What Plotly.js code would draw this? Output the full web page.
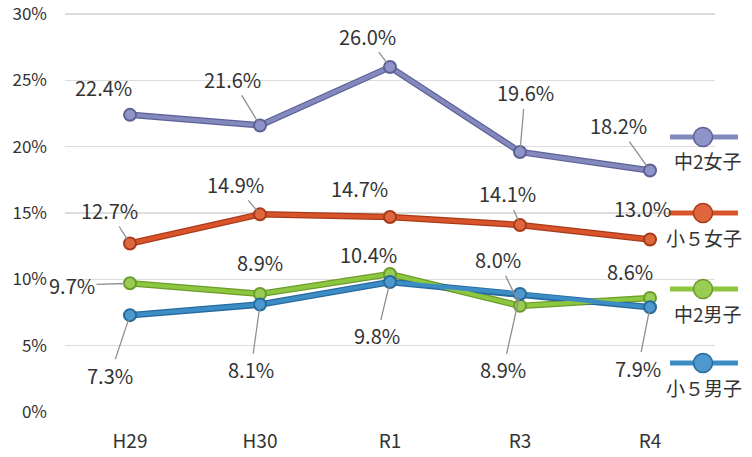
<!DOCTYPE html>
<html><head><meta charset="utf-8">
<script src="https://cdn.plot.ly/plotly-3.0.1.min.js"></script>
<style>body{margin:0;background:#fff}#c{width:752px;height:457px}</style>
</head><body><div id="c"></div>
<script>
// ---- data ----
const categories = ["H29", "H30", "R1", "R3", "R4"];
const seriesNames = ["中2女子", "小５女子", "中2男子", "小５男子"];
const g2Girls = [22.4, 21.6, 26.0, 19.6, 18.2];
const g5Girls = [12.7, 14.9, 14.7, 14.1, 13.0];
const g2Boys = [9.7, 8.9, 10.4, 8.0, 8.6];
const g5Boys = [7.3, 8.1, 9.8, 8.9, 7.9];
const yTicks = [0, 5, 10, 15, 20, 25, 30];

// ---- styles / layout config ----
const FONT = '"Noto Sans CJK JP", "Noto Sans", sans-serif';
const styles = [
  {line: '#8388bd', edge: '#5d6197', marker: '#8f94c8'},
  {line: '#d9542b', edge: '#a83a19', marker: '#e0673d'},
  {line: '#8dc63f', edge: '#6a9d2a', marker: '#98cc52'},
  {line: '#3c8dc5', edge: '#276a9e', marker: '#4d98cc'}
];
// label offsets in pixels [dx, dy, leaderLine]
const offsets = [
  [[-27,-27,0],[-28,-46,1],[-23,-31,1],[5,-59,1],[-32,-45,1]],
  [[-21,-33,1],[-25,-30,1],[-31,-28,0],[-13,-31,1],[-8,-31,0]],
  [[-58,2,1],[0,-31,0],[-22,-20,0],[-22,-46,1],[-20,-26,0]],
  [[-20,60,1],[-9,65,1],[-13,54,1],[-17,76,1],[-12,61,1]]
];
const legendY = [137, 213, 289, 363]; // pixel centers of legend symbols
const seriesData = [g2Girls, g5Girls, g2Boys, g5Boys];

const M = {l: 65, r: 37, t: 5, b: 45};
const W = 752, H = 457;
const PW = W - M.l - M.r, PH = H - M.t - M.b;
const px = x => (x - M.l) / PW;
const py = y => (H - M.b - y) / PH;
const yTop = 30 * PH / (H - M.b - 14); // 30% gridline at y=14px

const traces = [];
seriesData.forEach((vals, i) => {
  traces.push({x: categories, y: vals, type: 'scatter', mode: 'lines',
    line: {color: styles[i].edge, width: 6.5}, hoverinfo: 'skip', showlegend: false});
});
seriesData.forEach((vals, i) => {
  traces.push({x: categories, y: vals, type: 'scatter', mode: 'lines+markers', name: seriesNames[i],
    line: {color: styles[i].line, width: 4},
    marker: {size: 12, color: styles[i].marker, line: {color: styles[i].edge, width: 2}},
    showlegend: false});
});

const annotations = [];
const LF = {family: FONT, size: 20, color: '#333'};
seriesData.forEach((vals, i) => {
  vals.forEach((v, j) => {
    const [dx, dy, ln] = offsets[i][j];
    const t = v.toFixed(1) + '%';
    if (ln) {
      annotations.push({x: categories[j], y: v, text: t, showarrow: true, ax: dx, ay: dy,
        arrowhead: 0, arrowwidth: 1.3, arrowcolor: '#8f8f8f', standoff: 5, font: LF});
    } else {
      annotations.push({x: categories[j], y: v, text: t, showarrow: false,
        xshift: dx, yshift: -dy, font: LF});
    }
  });
});

const shapes = [];
seriesNames.forEach((n, i) => {
  const yy = py(legendY[i]);
  shapes.push({type: 'line', xref: 'paper', yref: 'paper', x0: px(670), x1: px(738), y0: yy, y1: yy,
    line: {color: styles[i].line, width: 5}});
  shapes.push({type: 'circle', xref: 'paper', yref: 'paper', xsizemode: 'pixel', ysizemode: 'pixel',
    xanchor: px(703), yanchor: yy, x0: -9.5, x1: 9.5, y0: -9.5, y1: 9.5,
    fillcolor: styles[i].marker, line: {color: styles[i].edge, width: 1.5}});
  annotations.push({xref: 'paper', yref: 'paper', x: px(744), y: py(legendY[i] + 24), xanchor: 'right',
    yanchor: 'middle', showarrow: false, text: n, font: {family: FONT, size: 19, color: '#333'}});
});

const layout = {
  width: W, height: H, margin: M, paper_bgcolor: '#fff', plot_bgcolor: '#fff',
  showlegend: false,
  font: {family: FONT, color: '#333'},
  xaxis: {type: 'category', range: [-0.5, 4.5], showgrid: false, zeroline: false, showline: false,
    ticks: '', ticklabelstandoff: 16, tickfont: {size: 19, color: '#333', family: FONT}},
  yaxis: {range: [0, yTop], tickmode: 'array', tickvals: yTicks, ticktext: yTicks.map(v => v + '%'),
    showgrid: true, gridcolor: '#dcdcdc', gridwidth: 1.5, zeroline: false, showline: false, ticks: '',
    ticklabeloverflow: 'allow', ticklabelstandoff: 17, tickfont: {size: 17, color: '#333', family: FONT}},
  annotations, shapes
};
Plotly.newPlot('c', traces, layout, {displayModeBar: false, staticPlot: true});
</script></body></html>
